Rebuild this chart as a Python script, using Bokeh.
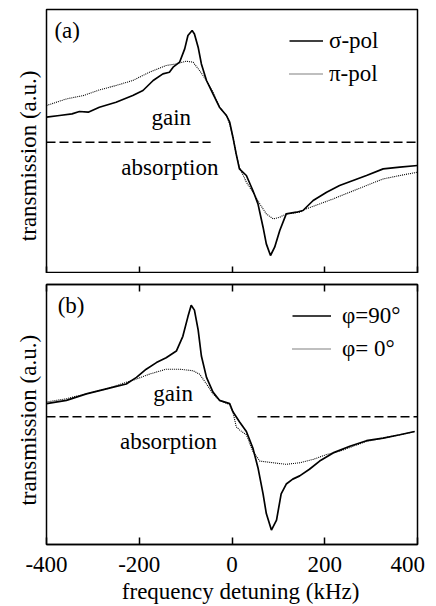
from bokeh.plotting import figure
from bokeh.layouts import column
from bokeh.models import FixedTicker, LinearAxis, Legend, LegendItem, Range1d, ColumnDataSource
from bokeh.core.properties import value
from bokeh.embed import file_html
from bokeh.resources import INLINE

FONT = "'Liberation Serif'"
NB = "\u00a0"

# ---------------- data ----------------
x_ticks = [-400, -200, 0, 200, 400]
x_tick_labels = {-400: "-400", -200: "-200", 0: "0", 200: "200", 400: "400" + NB * 2}
x_title = NB * 3 + "frequency detuning (kHz)"
y_title_a = "transmission (a.u.)" + NB * 5
y_title_b = "transmission (a.u.)" + NB * 2

# panel (a)
xa_sigma = [-400, -372, -345, -329, -310, -286, -250, -214, -192, -170, -149, -135, -127, -113,
            -102, -95, -86, -81, -73, -66, -55, -41, -27, -12, -5, 2, 9, 16, 31, 45, 56, 67, 74,
            83, 92, 103, 117, 139, 153, 175, 204, 232, 261, 290, 326, 362, 400]
ya_sigma = [0.25, 0.267, 0.283, 0.307, 0.30, 0.35, 0.40, 0.467, 0.517, 0.617, 0.683, 0.70, 0.75, 0.80,
            0.933, 1.067, 1.117, 1.083, 0.95, 0.783, 0.617, 0.483, 0.35, 0.267, 0.20, 0.05, -0.117,
            -0.267, -0.333, -0.483, -0.617, -0.85, -1.017, -1.133, -1.05, -0.883, -0.717, -0.70,
            -0.683, -0.583, -0.50, -0.433, -0.383, -0.333, -0.267, -0.25, -0.233]

xa_pi = [-400, -357, -320, -286, -250, -214, -178, -142, -120, -99, -84, -70, -55, -41, -27, -12,
         -5, 2, 9, 16, 31, 45, 60, 74, 89, 103, 117, 146, 160, 189, 218, 254, 290, 326, 362, 400]
ya_pi = [0.367, 0.433, 0.467, 0.523, 0.567, 0.617, 0.70, 0.767, 0.783, 0.81, 0.80, 0.717, 0.617,
         0.50, 0.35, 0.267, 0.183, 0.05, -0.117, -0.25, -0.40, -0.50, -0.617, -0.717, -0.767,
         -0.75, -0.717, -0.70, -0.667, -0.617, -0.567, -0.50, -0.433, -0.367, -0.333, -0.30]

# panel (b)
xb_90 = [-400, -357, -314, -271, -228, -206, -185, -163, -142, -120, -106, -95, -88, -81, -73, -66,
         -55, -41, -27, -5, 2, 16, 31, 45, 56, 67, 74, 85, 96, 106, 117, 131, 146, 167, 189, 218,
         254, 290, 326, 362, 394]
yb_90 = [0.133, 0.167, 0.233, 0.283, 0.333, 0.40, 0.483, 0.55, 0.60, 0.667, 0.817, 1.017, 1.133,
         1.083, 0.883, 0.617, 0.40, 0.25, 0.167, 0.133, 0.05, -0.05, -0.15, -0.317, -0.517, -0.783,
         -0.983, -1.15, -1.05, -0.783, -0.683, -0.633, -0.60, -0.533, -0.45, -0.367, -0.30, -0.243,
         -0.217, -0.183, -0.15]

xb_0 = [-400, -357, -314, -271, -228, -206, -178, -142, -113, -84, -70, -55, -41, -27, -5, 2, 9,
        16, 31, 45, 60, 89, 117, 146, 175, 204, 232, 290, 326, 362, 394]
yb_0 = [0.15, 0.183, 0.233, 0.283, 0.35, 0.383, 0.433, 0.483, 0.483, 0.467, 0.433, 0.333, 0.233,
        0.167, 0.123, 0.05, -0.10, -0.133, -0.183, -0.35, -0.45, -0.467, -0.483, -0.467, -0.433,
        -0.383, -0.35, -0.25, -0.217, -0.183, -0.15]

# gain/absorption boundary (two dashed segments)
dash_a_x = [[-400, -46], [40, 400]]
dash_b_x = [[-400, -46], [55, 400]]
dash_y = [[0, 0], [0, 0]]

notes_a = {"x": [-131, -134], "y": [0.25, -0.25], "text": ["gain", "absorption"]}
notes_b = {"x": [-127, -137], "y": [0.233, -0.25], "text": ["gain", "absorption"]}
tag_a = {"x": [-383], "y": [1.117], "text": ["(a)"]}
tag_b = {"x": [-376], "y": [1.133], "text": ["(b)"]}

labels_a = ["\u03c3-pol", "\u03c0-pol"]
labels_b = ["\u03c6=90\u00b0", "\u03c6= 0\u00b0"]

yrange_a = (-1.313, 1.327)
yrange_b = (-1.297, 1.343)


def style_xaxis(ax, show_labels):
    ax.axis_line_width = 1.5
    ax.axis_line_color = "black"
    if show_labels:
        ax.ticker = FixedTicker(ticks=x_ticks)
        ax.major_tick_in = 7
        ax.major_tick_out = 0
        ax.minor_tick_in = 0
        ax.minor_tick_out = 0
        ax.major_tick_line_width = 1.5
        ax.major_tick_line_color = "black"
        ax.major_label_overrides = x_tick_labels
        ax.major_label_text_font = FONT
        ax.major_label_text_font_size = "23px"
        ax.major_label_text_color = "black"
        ax.major_label_standoff = 7
    else:
        # ticks only, no labels: minor ticks carry no labels
        ax.ticker = FixedTicker(ticks=[], minor_ticks=x_ticks)
        ax.major_tick_in = 0
        ax.major_tick_out = 0
        ax.minor_tick_in = 7
        ax.minor_tick_out = 0
        ax.minor_tick_line_width = 1.5
        ax.minor_tick_line_color = "black"
        ax.major_label_standoff = 0
        ax.axis_label_standoff = 0


def make_panel(height, yr, border_top, border_bottom, bottom_labels, top_axis, ytitle):
    p = figure(width=436, height=height, x_range=Range1d(-400, 400), y_range=Range1d(*yr),
               output_backend="svg", toolbar_location=None,
               min_border_left=46, min_border_right=19,
               min_border_top=border_top, min_border_bottom=border_bottom)
    p.grid.visible = False
    p.outline_line_color = "black"
    p.outline_line_width = 1.5
    p.background_fill_color = "white"
    p.border_fill_color = "white"
    style_xaxis(p.xaxis[0], bottom_labels)
    if bottom_labels:
        p.xaxis.axis_label = x_title
        p.xaxis.axis_label_text_font = FONT
        p.xaxis.axis_label_text_font_size = "23px"
        p.xaxis.axis_label_text_font_style = "normal"
        p.xaxis.axis_label_text_color = "black"
        p.xaxis.axis_label_standoff = -1
    if top_axis:
        ax = LinearAxis()
        style_xaxis(ax, False)
        p.add_layout(ax, "above")
    ya = p.yaxis[0]
    ya.ticker = FixedTicker(ticks=[])
    ya.major_tick_out = 0
    ya.major_tick_in = 0
    ya.minor_tick_in = 0
    ya.minor_tick_out = 0
    ya.major_label_standoff = 0
    ya.axis_line_color = None
    ya.axis_label = ytitle
    ya.axis_label_text_font = FONT
    ya.axis_label_text_font_size = "23px"
    ya.axis_label_text_font_style = "normal"
    ya.axis_label_text_color = "black"
    ya.axis_label_standoff = 6
    return p


def add_content(p, xs, ys, xd, yd, dash_x, notes, tag, labels, glyph_w, standoff, loc):
    r1 = p.line(xs, ys, line_color="black", line_width=1.7)
    r2 = p.line(xd, yd, line_color="black", line_width=1.1, line_dash="1 1")
    p.multi_line(dash_x, dash_y, line_color="black", line_width=1.4, line_dash="9 4")
    p.text(x="x", y="y", text="text", source=ColumnDataSource(notes),
           text_font=value(FONT), text_font_size="23px", text_align="center",
           text_baseline="middle", text_color="black")
    p.text(x="x", y="y", text="text", source=ColumnDataSource(tag),
           text_font=value(FONT), text_font_size="23px", text_align="left",
           text_baseline="middle", text_color="black")
    leg = Legend(items=[LegendItem(label=labels[0], renderers=[r1]),
                        LegendItem(label=labels[1], renderers=[r2])],
                 location=loc, orientation="vertical",
                 glyph_width=glyph_w, glyph_height=27, label_height=27,
                 label_standoff=standoff, spacing=6, padding=0, margin=0,
                 label_text_font=FONT, label_text_font_size="23px",
                 label_text_color="black",
                 border_line_color=None, background_fill_alpha=0)
    p.add_layout(leg)


pa = make_panel(273, yrange_a, 9, 0, False, False, y_title_a)
add_content(pa, xa_sigma, ya_sigma, xa_pi, ya_pi, dash_a_x, notes_a, tag_a, labels_a, 34, 6, (243, 186))

pb = make_panel(333, yrange_b, 11, 58, True, True, y_title_b)
add_content(pb, xb_90, yb_90, xb_0, yb_0, dash_b_x, notes_b, tag_b, labels_b, 39, 11, (246, 182))

layout = column(pa, pb, spacing=0)
open("out.html", "w").write(file_html(layout, INLINE))
